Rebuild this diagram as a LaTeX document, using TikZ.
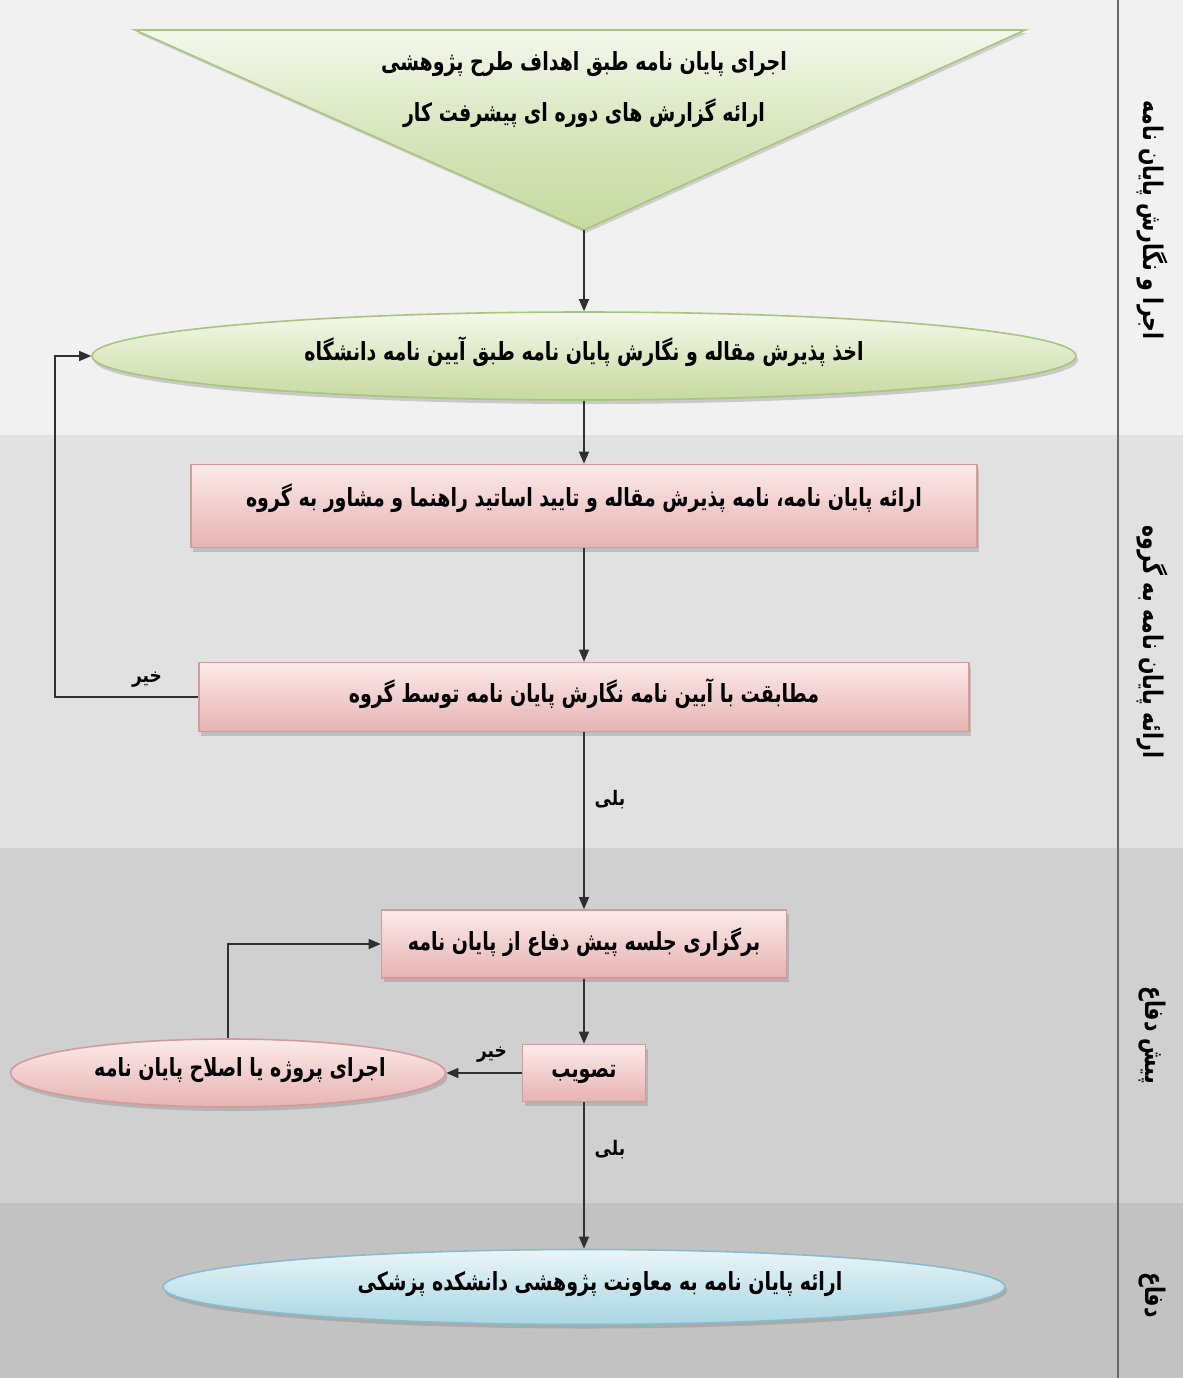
\documentclass[tikz,border=0pt]{standalone}
\usepackage{fontspec}
\TeXXeTstate=1
\newfontfamily\fa[Script=Arabic,FakeStretch=0.76]{DejaVu Sans}
\newfontfamily\fas[Script=Arabic,FakeStretch=0.85]{DejaVu Sans}
\usetikzlibrary{shapes.geometric,arrows.meta,shadows}
\definecolor{bandA}{HTML}{F1F1F1}
\definecolor{bandB}{HTML}{E1E1E1}
\definecolor{bandC}{HTML}{D0D0D0}
\definecolor{bandD}{HTML}{C2C2C2}
\definecolor{grnB}{HTML}{A9C47E}
\definecolor{grnT}{HTML}{F4F8EC}
\definecolor{grnD}{HTML}{C6DA9F}
\definecolor{pnkB}{HTML}{D49A99}
\definecolor{pnkT}{HTML}{FCEAEA}
\definecolor{pnkD}{HTML}{E6B3B2}
\definecolor{bluB}{HTML}{86BCCB}
\definecolor{bluT}{HTML}{EAF5F8}
\definecolor{bluD}{HTML}{A9D6E2}
\definecolor{lineC}{HTML}{303030}
\newcommand{\rtl}[1]{\beginR #1\endR}
\tikzset{
  txt/.style={font=\fa\bfseries\fontsize{12.5}{15}\selectfont, inner sep=0pt},
  smalltxt/.style={font=\fas\bfseries\fontsize{10}{12}\selectfont, inner sep=1pt},
  shad/.style={drop shadow={opacity=0.35, shadow xshift=1pt, shadow yshift=-2pt, fill=gray}},
  pinkbox/.style={draw=pnkB, line width=0.8pt, top color=pnkT, bottom color=pnkD, shad, inner sep=0pt},
  grnell/.style={ellipse, draw=grnB, line width=0.8pt, top color=grnT, bottom color=grnD, shad, inner sep=0pt},
  pinkell/.style={ellipse, draw=pnkB, line width=0.8pt, top color=pnkT, bottom color=pnkD, shad, inner sep=0pt},
  bluell/.style={ellipse, draw=bluB, line width=0.8pt, top color=bluT, bottom color=bluD, shad, inner sep=0pt},
  arr/.style={draw=lineC, line width=0.7pt, -{Triangle[length=6pt,width=5pt]}},
  band/.style={font=\fa\bfseries\fontsize{13.5}{15}\selectfont, rotate=-90, inner sep=0pt},
}
\begin{document}
\begin{tikzpicture}[x=0.5pt,y=-0.5pt]
\useasboundingbox (0,0) rectangle (1183,1378);
% bands
\fill[bandA] (0,0) rectangle (1183,435);
\fill[bandB] (0,435) rectangle (1183,848);
\fill[bandC] (0,848) rectangle (1183,1203);
\fill[bandD] (0,1203) rectangle (1183,1378);
\draw[draw=gray!80!black, line width=1.2pt] (1118,0) -- (1118,1378);
% band labels
\node[band] (l1) at (1152,220) {\rtl{اجرا و نگارش پایان نامه}};
\node[band] (l2) at (1152,642) {\rtl{ارائه پایان نامه به گروه}};
\node[band] (l3) at (1152,1035) {\rtl{پیش دفاع}};
\node[band] (l4) at (1152,1295) {\rtl{دفاع}};
% triangle
\fill[gray, opacity=0.3] (137,33) -- (1027,33) -- (586,233) -- cycle;
\shade[top color=grnT, bottom color=grnD, middle color=grnD!60!grnT, draw=grnB, line width=0.8pt] (135,30) -- (1025,30) -- (584,230) -- cycle;
\coordinate (apex) at (584,230);
\node[txt, align=center] (t1) at (584,64) {\rtl{اجرای پایان نامه طبق اهداف طرح پژوهشی}};
\node[txt, align=center] (t2) at (584,113) {\rtl{ارائه گزارش های دوره ای پیشرفت کار}};
% nodes
\node[grnell, minimum width=492pt, minimum height=44pt] (e1) at (584,356) {};
\node[txt] (e1t) at (584,352) {\rtl{اخذ پذیرش مقاله و نگارش پایان نامه طبق آیین نامه دانشگاه}};
\node[pinkbox, minimum width=393pt, minimum height=41.5pt] (b1) at (584,506) {};
\node[txt] (b1t) at (584,498) {\rtl{ارائه پایان نامه، نامه پذیرش مقاله و تایید اساتید راهنما و مشاور به گروه}};
\node[pinkbox, minimum width=385pt, minimum height=34.5pt] (b2) at (584,697) {};
\node[txt] (b2t) at (584,694) {\rtl{مطابقت با آیین نامه نگارش پایان نامه توسط گروه}};
\node[pinkbox, minimum width=202.5pt, minimum height=34pt] (b3) at (584,944) {};
\node[txt] (b3t) at (584,942) {\rtl{برگزاری جلسه پیش دفاع از پایان نامه}};
\node[pinkbox, minimum width=61.5pt, minimum height=28.5pt] (b4) at (584,1073) {};
\node[txt] (b4t) at (584,1074) {\rtl{تصویب}};
\node[pinkell, minimum width=217.5pt, minimum height=34pt] (e2) at (228,1073) {};
\node[txt] (e2t) at (240,1070) {\rtl{اجرای پروژه یا اصلاح پایان نامه}};
\node[bluell, minimum width=421pt, minimum height=37.5pt] (e3) at (584,1287) {};
\node[txt] (e3t) at (600,1284) {\rtl{ارائه پایان نامه به معاونت پژوهشی دانشکده پزشکی}};
% connectors
\coordinate (fb1) at (55,697);
\coordinate (fb2) at (228,944);
\draw[arr] (apex) -- (e1.north);
\draw[arr] (e1.south) -- (b1.north);
\draw[arr] (b1.south) -- (b2.north);
\draw[arr] (b2.west) -- (fb1) |- (e1.west);
\node[smalltxt] (no1) at (147,680) {\rtl{خیر}};
\draw[arr] (b2.south) -- (b3.north);
\node[smalltxt] (yes1) at (610,800) {\rtl{بلی}};
\draw[arr] (b3.south) -- (b4.north);
\draw[arr] (b4.west) -- (e2.east);
\node[smalltxt] (no2) at (492,1055) {\rtl{خیر}};
\draw[arr] (e2.north) -- (fb2) -- (b3.west);
\draw[arr] (b4.south) -- (e3.north);
\node[smalltxt] (yes2) at (610,1150) {\rtl{بلی}};
\end{tikzpicture}
\end{document}
